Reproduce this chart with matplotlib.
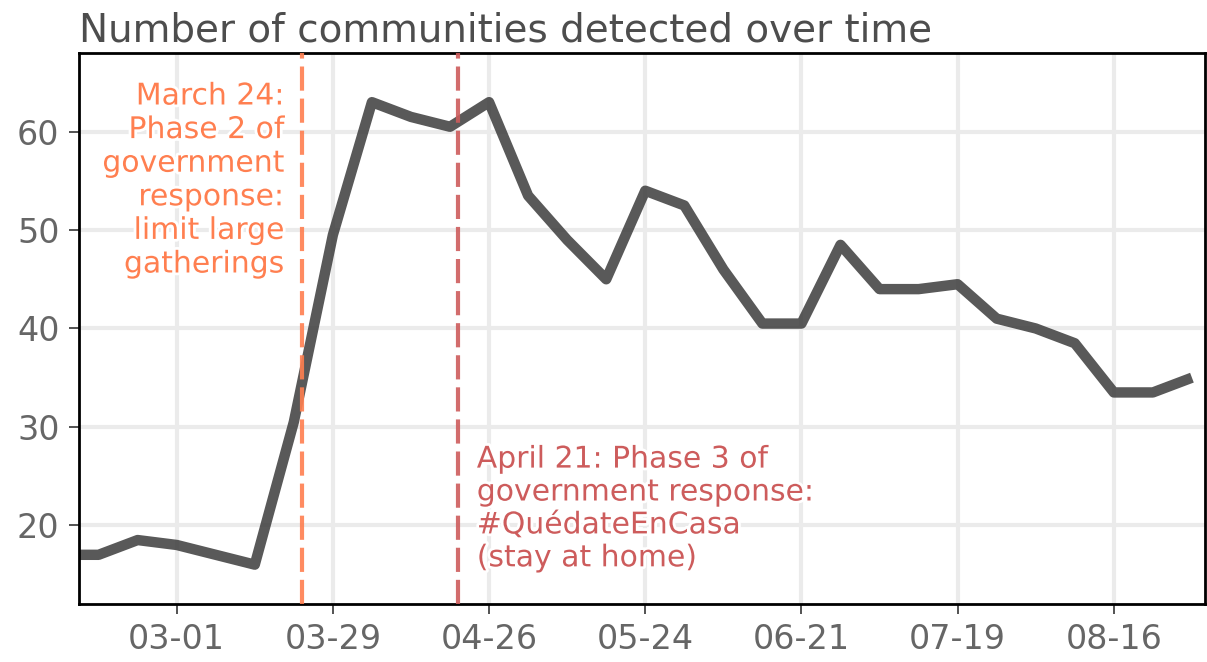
import pandas as pd
import matplotlib
matplotlib.use("Agg")
import matplotlib.pyplot as plt
import matplotlib.dates as mdates
import matplotlib.patheffects as pe

# weekly counts (Sundays), first point lies just left of the visible range
start_date = "2020-02-09"
communities = [17, 17, 18.5, 18, 17, 16, 30.5, 49.5, 63, 61.5, 60.5, 63,
               53.5, 49, 45, 54, 52.5, 46, 40.5, 40.5, 48.5, 44, 44, 44.5,
               41, 40, 38.5, 33.5, 33.5, 35]
tick_dates = ["2020-03-01", "2020-03-29", "2020-04-26", "2020-05-24",
              "2020-06-21", "2020-07-19", "2020-08-16"]
y_ticks = [20, 30, 40, 50, 60]

phase2_date = "2020-03-23 12:00"
phase3_date = "2020-04-20 12:00"
phase2_text = "March 24:\nPhase 2 of\ngovernment\nresponse:\nlimit large\ngatherings"
phase3_text = "April 21: Phase 3 of\ngovernment response:\n#QuédateEnCasa\n(stay at home)"

dates = pd.date_range(start_date, periods=len(communities), freq="7D")

fig = plt.figure(figsize=(12.07, 6.62), dpi=100)
ax = fig.add_axes([0.0655, 0.0876, 0.9328, 0.8324])

ax.grid(True, color="#ebebeb", linewidth=3, zorder=0)
ax.set_axisbelow(True)

c2 = "#ff7f50"
c3 = "#cd5c5c"
ax.plot(dates, communities, color="#404040", alpha=0.87, linewidth=7.5,
        solid_capstyle="butt", zorder=2)

ax.axvline(pd.Timestamp(phase2_date), color=c2, linestyle="--", linewidth=3,
           dashes=(5.8, 1.9), alpha=0.9, zorder=3)
ax.axvline(pd.Timestamp(phase3_date), color=c3, linestyle="--", linewidth=3,
           dashes=(5.8, 1.9), alpha=0.9, zorder=3)

halo = [pe.withStroke(linewidth=4, foreground="white")]
ax.text(pd.Timestamp(phase2_date) - pd.Timedelta(days=3.2), 65.1, phase2_text,
        color=c2, fontsize=21.5, ha="right", va="top", linespacing=1.2,
        path_effects=halo, zorder=4)
ax.text(pd.Timestamp(phase3_date) + pd.Timedelta(days=3.3), 28.2, phase3_text,
        color=c3, fontsize=21.5, ha="left", va="top", linespacing=1.17,
        path_effects=halo, zorder=4)

ax.set_xlim(pd.Timestamp("2020-02-12 12:00"), pd.Timestamp("2020-09-01 08:00"))
ax.set_ylim(12, 68)
ax.set_xticks(pd.to_datetime(tick_dates))
ax.xaxis.set_major_formatter(mdates.DateFormatter("%m-%d"))
ax.set_yticks(y_ticks)

ax.tick_params(labelsize=24, labelcolor="#666666", color="#444444",
               length=7, width=1.3, pad=7)
for s in ax.spines.values():
    s.set_linewidth(2)
    s.set_color("black")

ax.set_title("Number of communities detected over time", loc="left",
             fontsize=28, color="#4d4d4d", pad=8)

fig.savefig("out.png", dpi=100)
